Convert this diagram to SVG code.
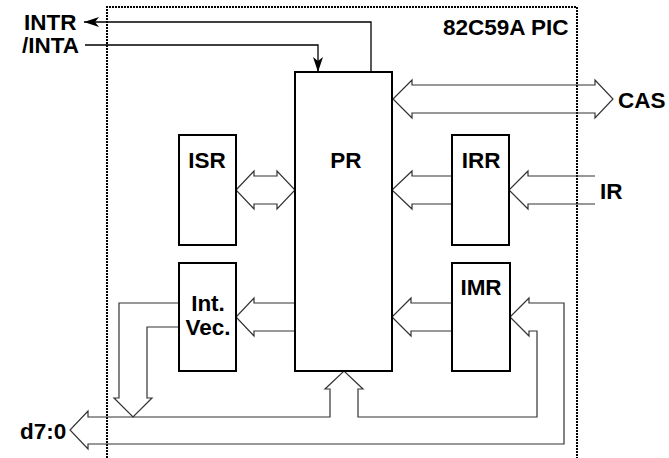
<svg xmlns="http://www.w3.org/2000/svg" width="669" height="458" viewBox="0 0 669 458">
<style>
.box{fill:#fff;stroke:#000;stroke-width:2}
.wa{fill:none;stroke:#333;stroke-width:1.2;stroke-linejoin:miter}
.sig{fill:none;stroke:#000;stroke-width:1.3}
text{font-family:"Liberation Sans",Arial,sans-serif;font-weight:bold;font-size:22.5px;fill:#000}
.c{text-anchor:middle}
</style>
<defs>
<marker id="ah" viewBox="0 0 15 10" refX="15" refY="5" markerWidth="15" markerHeight="10" markerUnits="userSpaceOnUse" orient="auto">
<path d="M0,0 L15,5 L0,10 L4,5 Z" fill="#000"/>
</marker>
</defs>
<rect width="669" height="458" fill="#fff"/>
<path d="M107,458 V7 H577 V458" fill="none" stroke="#000" stroke-width="2" stroke-dasharray="2 1"/>
<text x="443" y="35" font-size="21.5">82C59A PIC</text>
<g id="connectors">
<path class="sig" d="M371,72 V22 H84" marker-end="url(#ah)"/>
<path class="sig" d="M85,45 H318 V72" marker-end="url(#ah)"/>
<path class="wa" d="M393,99 L412,80 L412,85 L595,85 L595,80 L613,99 L595,118 L595,113 L412,113 L412,118 Z"/>
<path class="wa" d="M236,190 L254,171 L254,176 L277,176 L277,171 L295,190 L277,209 L277,204 L254,204 L254,209 Z"/>
<path class="wa" d="M452,176 L412,176 L412,171 L392,190 L412,209 L412,204 L452,204"/>
<path class="wa" d="M595,176 L528,176 L528,171 L509,190 L528,209 L528,204 L595,204"/>
<path class="wa" d="M295,303 L254,303 L254,298 L236,317 L254,336 L254,331 L295,331"/>
<path class="wa" d="M452,303 L411,303 L411,298 L392,317 L411,336 L411,331 L452,331"/>
<path class="wa" d="M179,303 L119,303 L119,398 L114,398 L133,417 L152,398 L147,398 L147,327 L179,327"/>
<path class="wa" d="M88,417 L330,417 L330,389 L325,389 L344,371 L363,389 L358,389 L358,417 L537,417 L537,331 L529,331 L529,336 L510,317 L529,298 L529,303 L564,303 L564,444 L88,444 L88,449 L70,430 L88,411 Z"/>
</g>
<g id="PR">
<rect class="box" x="295" y="72" width="97" height="299"/>
<text class="c" x="346" y="168">PR</text>
</g>
<g id="ISR">
<rect class="box" x="179" y="135" width="57" height="110"/>
<text class="c" x="207" y="168">ISR</text>
</g>
<g id="IRR">
<rect class="box" x="452" y="135" width="57" height="110"/>
<text class="c" x="481" y="168">IRR</text>
</g>
<g id="IntVec">
<rect class="box" x="179" y="263" width="57" height="108"/>
<text class="c" x="208" y="311">Int.</text>
<text class="c" x="208" y="335">Vec.</text>
</g>
<g id="IMR">
<rect class="box" x="452" y="263" width="58" height="108"/>
<text class="c" x="481" y="295">IMR</text>
</g>
<g id="labels">
<text x="24" y="30">INTR</text>
<text x="22" y="53">/INTA</text>
<text x="618" y="108">CAS</text>
<text x="600" y="199">IR</text>
<text x="20" y="439">d7:0</text>
</g>
</svg>
